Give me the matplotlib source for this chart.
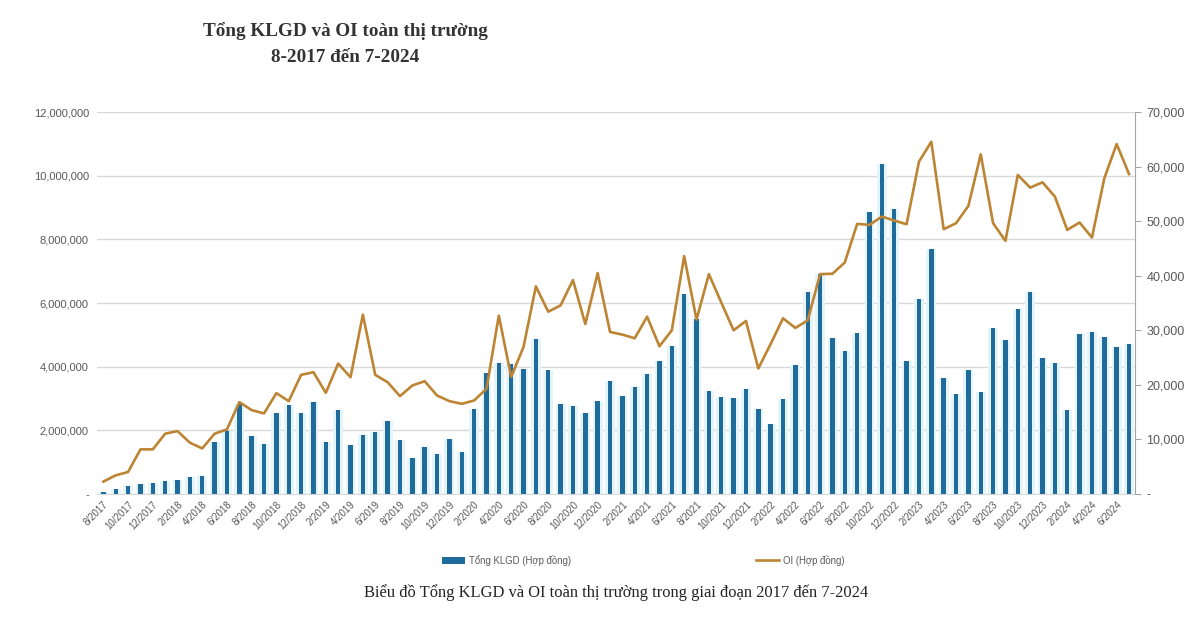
import matplotlib
matplotlib.use("Agg")
import matplotlib.pyplot as plt
import matplotlib.ticker as mticker
import numpy as np

plt.rcParams.update({
    "font.family": ["Liberation Sans", "DejaVu Sans"],
})

BAR_COLOR = "#1f6b9c"
HALO_COLOR = "#e3f4fb"
LINE_COLOR = "#bc8433"
GRID_COLOR = "#d9d9d9"
TICK_COLOR = "#595959"

# months 8/2017 .. 7/2024
months = [f"{(7 + i) % 12 + 1}/{2017 + (7 + i) // 12}" for i in range(84)]

# Tổng KLGD (contracts), millions
klgd_m = [
    0.06, 0.15, 0.25, 0.32, 0.35, 0.41, 0.43, 0.52, 0.56, 1.64, 1.99, 2.83,
    1.82, 1.57, 2.54, 2.81, 2.54, 2.88, 1.64, 2.63, 1.53, 1.86, 1.96, 2.30,
    1.70, 1.14, 1.47, 1.27, 1.74, 1.33, 2.67, 3.81, 4.11, 4.08, 3.94, 4.88,
    3.90, 2.83, 2.77, 2.53, 2.91, 3.55, 3.09, 3.35, 3.76, 4.19, 4.66, 6.27,
    5.51, 3.25, 3.06, 3.03, 3.29, 2.68, 2.20, 2.97, 4.04, 6.36, 6.90, 4.91,
    4.50, 5.07, 8.86, 10.38, 8.96, 4.19, 6.13, 7.69, 3.64, 3.14, 3.88, 3.20,
    5.23, 4.85, 5.81, 6.36, 4.27, 4.10, 2.65, 5.03, 5.09, 4.93, 4.61, 4.71,
]

# OI (contracts)
oi = [
    2260, 3410, 4020, 8170, 8170, 11040, 11520, 9390, 8350, 11040, 11830, 16830,
    15370, 14760, 18480, 17010, 21830, 22320, 18540, 23900, 21400, 32870, 21830, 20490,
    17930, 19880, 20670, 18050, 17010, 16520, 17130, 19270, 32680, 21460, 26950, 38050,
    33410, 34570, 39210, 31160, 40490, 29700, 29210, 28540, 32500, 27070, 30000, 43600,
    31950, 40300, 35120, 30000, 31710, 23000, 27500, 32200, 30430, 31830, 40300, 40370,
    42440, 49510, 49330, 50850, 50120, 49450, 60910, 64570, 48540, 49630, 52800, 62260,
    49630, 46400, 58480, 56160, 57130, 54510, 48410, 49760, 47010, 57870, 64150, 58660,
]

klgd = np.array(klgd_m) * 1e6
x = np.arange(len(months))

fig = plt.figure(figsize=(12, 6.3), dpi=100)
ax = fig.add_axes([0.081, 0.216, 0.865, 0.606])
ax2 = ax.twinx()

# pale glow behind bars, then the bars
ax.bar(x, klgd, width=0.8, color=HALO_COLOR, zorder=2)
ax.bar(x, klgd, width=0.36, color=BAR_COLOR, zorder=3, label="Tổng KLGD (Hợp đồng)")
ax2.plot(x, oi, color=LINE_COLOR, linewidth=1.9, zorder=4, label="OI (Hợp đồng)")

ax.set_xlim(-0.5, len(months) - 0.5)
ax.set_ylim(0, 12e6)
ax2.set_ylim(0, 70000)

ax.set_yticks(np.arange(0, 12e6 + 1, 2e6))
ax.yaxis.set_major_formatter(mticker.FuncFormatter(
    lambda v, p: "-" if v == 0 else f"{int(v):,}"))
ax2.set_yticks(np.arange(0, 70001, 10000))
ax2.yaxis.set_major_formatter(mticker.FuncFormatter(
    lambda v, p: "-" if v == 0 else f"{int(v):,}"))

ax.set_xticks(x[::2])
ax.set_xticklabels(months[::2], rotation=45, ha="right", rotation_mode="anchor",
                   fontsize=7, color=TICK_COLOR)
ax.tick_params(axis="x", length=0, pad=4)
ax.tick_params(axis="y", length=0, labelsize=8, colors=TICK_COLOR, pad=6)
ax2.tick_params(axis="y", length=4, width=0.8, color="#a6a6a6",
                labelsize=9, labelcolor=TICK_COLOR, pad=4)

ax.yaxis.grid(True, color=GRID_COLOR, linewidth=1, zorder=0)
ax.set_axisbelow(True)
for s in ["top", "left", "right"]:
    ax.spines[s].set_visible(False)
    ax2.spines[s].set_visible(False)
ax.spines["bottom"].set_color(GRID_COLOR)
ax2.spines["bottom"].set_visible(False)
ax2.spines["right"].set_visible(True)
ax2.spines["right"].set_color("#a6a6a6")
ax2.spines["right"].set_linewidth(0.8)

# titles
fig.text(0.288, 0.951, "Tổng KLGD và OI toàn thị trường", ha="center", va="center",
         fontsize=13.8, fontweight="bold", family="Liberation Serif", color="#333333")
fig.text(0.288, 0.908, "8-2017 đến 7-2024", ha="center", va="center",
         fontsize=13.8, fontweight="bold", family="Liberation Serif", color="#333333")

# legend
h1, l1 = ax.get_legend_handles_labels()
h2, l2 = ax2.get_legend_handles_labels()
fig.legend([h1[0]], [l1[0]], loc="center", bbox_to_anchor=(0.422, 0.111),
           frameon=False, fontsize=6.9, handlelength=2.4, handletextpad=0.4,
           labelcolor=TICK_COLOR)
fig.legend([h2[0]], [l2[0]], loc="center", bbox_to_anchor=(0.667, 0.111),
           frameon=False, fontsize=6.9, handlelength=2.4, handletextpad=0.4,
           labelcolor=TICK_COLOR)

fig.text(0.513, 0.06, "Biểu đồ Tổng KLGD và OI toàn thị trường trong giai đoạn 2017 đến 7-2024",
         ha="center", va="center", fontsize=11.9, family="Liberation Serif", color="#222222")

fig.savefig("out.png", dpi=100, facecolor="white")
